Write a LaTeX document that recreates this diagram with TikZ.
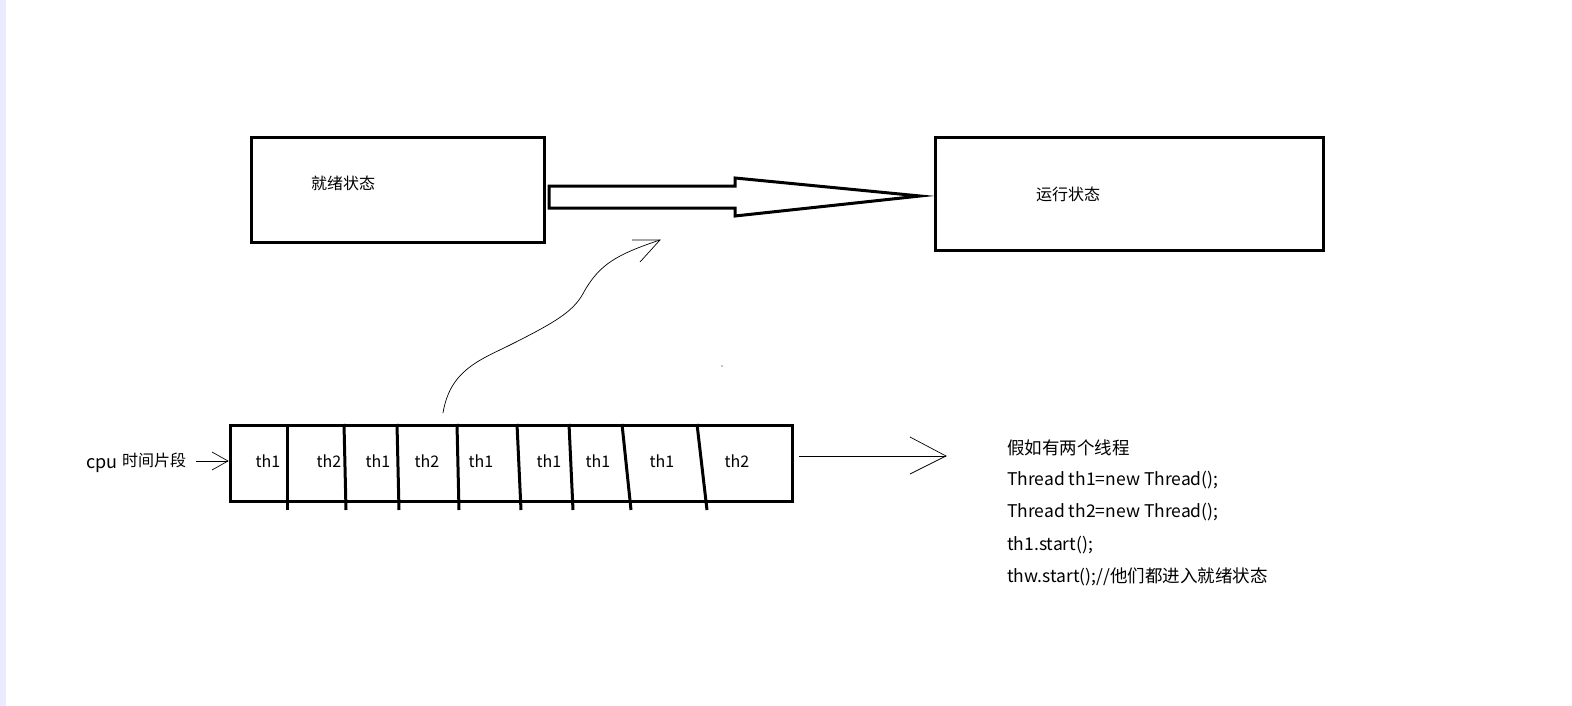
\documentclass[tikz,border=0pt]{standalone}
\usepackage{fontspec}
\setmainfont{Noto Sans CJK SC}
\begin{document}
\begin{tikzpicture}[x=1pt,y=-1pt,
  box/.style={draw=black,line width=3pt},
  div/.style={line width=3pt},
  lbl/.style={font=\fontsize{16}{18}\selectfont,inner sep=0pt},
  txt/.style={font=\fontsize{17.5}{20}\selectfont,inner sep=0pt,anchor=west},
  thin/.style={line width=0.7pt}]
\useasboundingbox (0,0) rectangle (1572,706);
\fill[blue!8] (0,0) rectangle (6,706);
\node[box,minimum width=293pt,minimum height=105pt,anchor=north west] (ready) at (250,136) {};
\node[lbl] at (343,183) {就绪状态};
\node[box,minimum width=388pt,minimum height=113pt,anchor=north west] (run) at (934,136) {};
\node[lbl] at (1068,194) {运行状态};
\coordinate (tip) at (920,196);
\draw[line width=3pt,line join=miter] (549,186) -- (735,186) -- (735,178) -- (tip) -- (735,216) -- (735,208) -- (549,208) -- cycle;
\node[box,minimum width=562pt,minimum height=76pt,anchor=north west] (strip) at (229,424) {};
\foreach \a/\b in {287/287,344/346,397/399,457/459,517/521,569/573,622/631,697/707}
  \draw[div] (\a,424) -- (\b,510);
\foreach \x/\t in {268/th1,329/th2,378/th1,427/th2,481/th1,549/th1,598/th1,662/th1,737/th2}
  \node[lbl] at (\x,461) {\t};
\node[lbl,font=\fontsize{18}{20}\selectfont,anchor=west] (cpu) at (86,466) {cpu};
\node[lbl,anchor=west] (seg) at (122,460) {时间片段};
\coordinate (sa) at (196,461);
\draw[thin] (sa) -- (228,461);
\draw[thin] (212,452) -- (228,461) -- (212,470);
\coordinate (ra) at (799,456);
\coordinate (rb) at (946,456);
\draw[thin] (ra) -- (rb);
\draw[thin] (910,437) -- (rb) -- (910,474);
\draw[thin] (443,413) .. controls (450,370) and (480,360) .. (510,345)
  .. controls (560,320) and (575,310) .. (585,290)
  .. controls (600,265) and (615,255) .. (660,240);
\draw[thin] (632,240) -- (660,240) -- (640,262);
\fill (722,366) circle (0.6);
\node[txt] (t1) at (1007,448) {假如有两个线程};
\node[txt] at (1007,480) {Thread th1=new Thread();};
\node[txt] at (1007,512) {Thread th2=new Thread();};
\node[txt] at (1007,545) {th1.start();};
\node[txt] at (1007,577) {thw.start();//他们都进入就绪状态};
\end{tikzpicture}
\end{document}
